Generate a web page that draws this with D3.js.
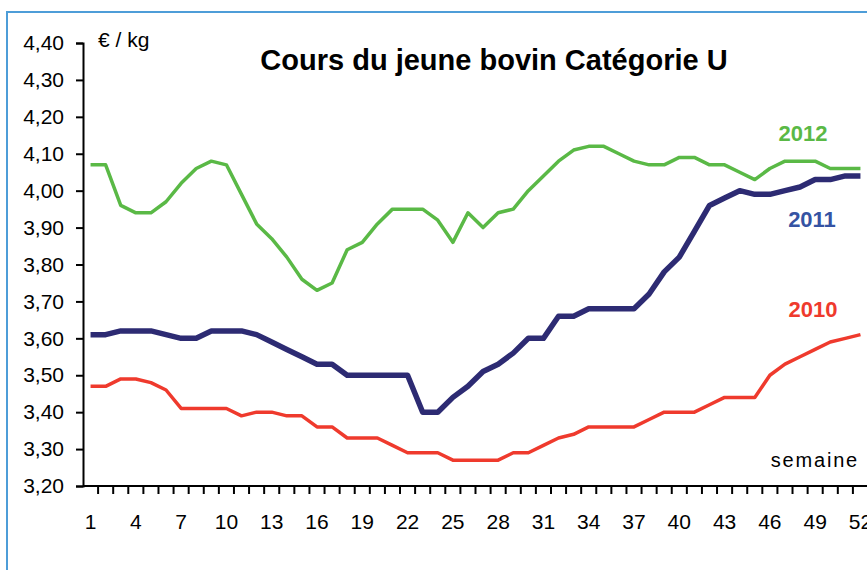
<!DOCTYPE html>
<html>
<head>
<meta charset="utf-8">
<script src="https://cdn.jsdelivr.net/npm/d3@7"></script>
<style>
  body { margin: 0; background: #fff; }
  svg { display: block; font-family: "Liberation Sans", Arial, sans-serif; }
</style>
</head>
<body>
<svg id="chart" width="867" height="570"></svg>
<script>
// weeks 1..52
var weeks = d3.range(1, 53);
var weekLabels = [1, 4, 7, 10, 13, 16, 19, 22, 25, 28, 31, 34, 37, 40, 43, 46, 49, 52];
var yTicks = [3.2, 3.3, 3.4, 3.5, 3.6, 3.7, 3.8, 3.9, 4.0, 4.1, 4.2, 4.3, 4.4];

var values2012 = [4.07, 4.07, 3.96, 3.94, 3.94, 3.97, 4.02, 4.06, 4.08, 4.07,
                  3.99, 3.91, 3.87, 3.82, 3.76, 3.73, 3.75, 3.84, 3.86, 3.91,
                  3.95, 3.95, 3.95, 3.92, 3.86, 3.94, 3.90, 3.94, 3.95, 4.00,
                  4.04, 4.08, 4.11, 4.12, 4.12, 4.10, 4.08, 4.07, 4.07, 4.09,
                  4.09, 4.07, 4.07, 4.05, 4.03, 4.06, 4.08, 4.08, 4.08, 4.06,
                  4.06, 4.06];
var values2011 = [3.61, 3.61, 3.62, 3.62, 3.62, 3.61, 3.60, 3.60, 3.62, 3.62,
                  3.62, 3.61, 3.59, 3.57, 3.55, 3.53, 3.53, 3.50, 3.50, 3.50,
                  3.50, 3.50, 3.40, 3.40, 3.44, 3.47, 3.51, 3.53, 3.56, 3.60,
                  3.60, 3.66, 3.66, 3.68, 3.68, 3.68, 3.68, 3.72, 3.78, 3.82,
                  3.89, 3.96, 3.98, 4.00, 3.99, 3.99, 4.00, 4.01, 4.03, 4.03,
                  4.04, 4.04];
var values2010 = [3.47, 3.47, 3.49, 3.49, 3.48, 3.46, 3.41, 3.41, 3.41, 3.41,
                  3.39, 3.40, 3.40, 3.39, 3.39, 3.36, 3.36, 3.33, 3.33, 3.33,
                  3.31, 3.29, 3.29, 3.29, 3.27, 3.27, 3.27, 3.27, 3.29, 3.29,
                  3.31, 3.33, 3.34, 3.36, 3.36, 3.36, 3.36, 3.38, 3.40, 3.40,
                  3.40, 3.42, 3.44, 3.44, 3.44, 3.50, 3.53, 3.55, 3.57, 3.59,
                  3.60, 3.61];

var seriesNames = ["2012", "2011", "2010"];
var seriesValues = [values2012, values2011, values2010];
var lineColors = ["#5ab946", "#2d2b73", "#ef3a2d"];
var labelColors = ["#5ab946", "#3553a3", "#ef3a2d"];
var lineWidths = [3.5, 5.5, 3.5];

var svg = d3.select("#chart");

// frame (only top and left visible)
svg.append("path")
    .attr("d", "M7,570 L7,12 L867,12")
    .attr("fill", "none")
    .attr("stroke", "#4d9dd8")
    .attr("stroke-width", 2);

var plotLeft = 83, plotRight = 868, plotTop = 43, plotBottom = 486;

var x = d3.scaleBand().domain(weeks).range([plotLeft, plotRight]).padding(0);
var y = d3.scaleLinear().domain([3.2, 4.4]).range([plotBottom, plotTop]);

var fr = d3.formatLocale({decimal: ",", thousands: " ", grouping: [3], currency: ["", " €"]});
var fmt = fr.format(".2f");

// y axis
var yAxis = d3.axisLeft(y).tickValues(yTicks).tickFormat(fmt).tickSizeOuter(0).tickSize(7).tickPadding(12);
var gy = svg.append("g").attr("transform", "translate(" + plotLeft + ",0)").call(yAxis);
gy.select(".domain").attr("stroke", "#000").attr("stroke-width", 2);
gy.selectAll(".tick line").attr("stroke", "#000").attr("stroke-width", 2);
gy.selectAll(".tick text").attr("font-size", 21).attr("fill", "#000").attr("font-family", "Liberation Sans, Arial, sans-serif");

// x axis: ticks between categories
var gx = svg.append("g").attr("transform", "translate(0," + plotBottom + ")");
gx.append("line")
    .attr("x1", plotLeft).attr("x2", plotRight)
    .attr("stroke", "#000").attr("stroke-width", 2);
gx.selectAll(".xtick").data(d3.range(1, 53)).enter().append("line")
    .attr("class", "xtick")
    .attr("x1", d => x(d) + x.bandwidth()).attr("x2", d => x(d) + x.bandwidth())
    .attr("y1", 0).attr("y2", 8)
    .attr("stroke", "#000").attr("stroke-width", 2);
gx.selectAll(".xlabel").data(weekLabels).enter().append("text")
    .attr("class", "xlabel")
    .attr("x", d => x(d) + x.bandwidth() / 2)
    .attr("y", 43)
    .attr("text-anchor", "middle")
    .attr("font-size", 21)
    .text(d => d);

// lines
var line = d3.line()
    .x((d, i) => x(weeks[i]) + x.bandwidth() / 2)
    .y(d => y(d));

seriesValues.forEach(function(vals, i) {
    svg.append("path")
        .datum(vals)
        .attr("fill", "none")
        .attr("stroke", lineColors[i])
        .attr("stroke-width", lineWidths[i])
        .attr("stroke-linejoin", "round")
        .attr("d", line);
});

// title and labels
svg.append("text")
    .attr("x", 494).attr("y", 70)
    .attr("text-anchor", "middle")
    .attr("font-size", 29)
    .attr("font-weight", "bold")
    .text("Cours du jeune bovin Catégorie U");

svg.append("text")
    .attr("x", 98).attr("y", 47)
    .attr("font-size", 21)
    .text("€ / kg");

var labelPos = [[803, 141], [812, 227], [813, 317]];
seriesNames.forEach(function(name, i) {
    svg.append("text")
        .attr("x", labelPos[i][0]).attr("y", labelPos[i][1])
        .attr("text-anchor", "middle")
        .attr("font-size", 22)
        .attr("font-weight", "bold")
        .attr("fill", labelColors[i])
        .text(name);
});

svg.append("text")
    .attr("x", 859).attr("y", 467)
    .attr("text-anchor", "end")
    .attr("font-size", 20)
    .attr("letter-spacing", 1.8)
    .text("semaine");
</script>
</body>
</html>
